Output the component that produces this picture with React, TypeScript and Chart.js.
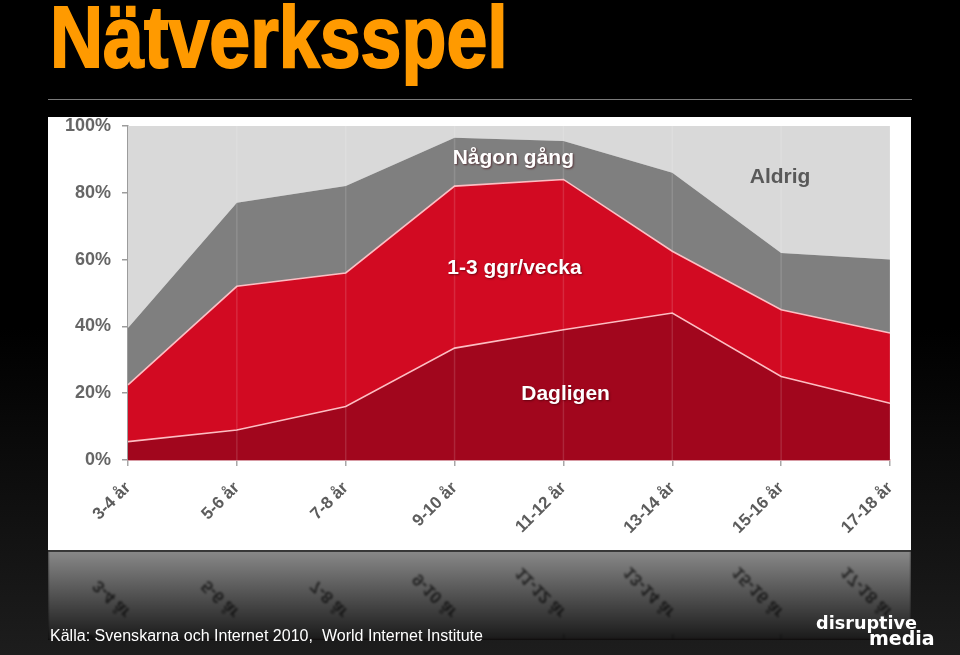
import React, { useEffect, useLayoutEffect, useRef } from "react";
import { Chart, registerables } from "chart.js";

Chart.register(...registerables);

// ---------- data ----------
const categories = ["3-4 år", "5-6 år", "7-8 år", "9-10 år", "11-12 år", "13-14 år", "15-16 år", "17-18 år"];
const dagligen = [5.5, 9, 16, 33.5, 39, 44, 25, 17];
const veckan = [17, 43, 40, 48.5, 45, 18.5, 20, 21];
const nagonGang = [17, 25, 26, 14.5, 11.5, 23.5, 17, 22];
const aldrig = [60.5, 23, 18, 3.5, 4.5, 14, 38, 40];
const yTicks = [0, 20, 40, 60, 80, 100];

const seriesNames = ["Dagligen", "1-3 ggr/vecka", "Någon gång", "Aldrig"];
const seriesColors = ["#a1061d", "#d20a22", "#7f7f7f", "#d9d9d9"];
// in-chart series labels: category index and percent value where they sit
const labelIndex = [4.02, 3.55, 3.54, 5.99];
const labelValue = [19.8, 57.5, 90.4, 84.7];
const labelColors = ["#ffffff", "#ffffff", "#ffffff", "#595959"];

const FONT = "'Liberation Sans', Arial, Helvetica, sans-serif";

const slidePlugin = {
  id: "slide",
  beforeDraw(chart: any) {
    const { ctx, width, height } = chart;
    ctx.save();
    ctx.fillStyle = "#ffffff";
    ctx.fillRect(0, 0, width, height);
    ctx.restore();
  },
  afterDatasetsDraw(chart: any) {
    const { ctx, chartArea, scales } = chart;
    const x = scales.x;
    const y = scales.y;
    ctx.save();
    ctx.strokeStyle = "rgba(255,255,255,0.13)";
    ctx.lineWidth = 1.5;
    categories.forEach((_, i) => {
      if (i === 0) return;
      const px = x.getPixelForValue(i);
      ctx.beginPath();
      ctx.moveTo(px, chartArea.top);
      ctx.lineTo(px, chartArea.bottom);
      ctx.stroke();
    });
    ctx.font = `bold 21px ${FONT}`;
    ctx.textAlign = "center";
    ctx.textBaseline = "middle";
    seriesNames.forEach((name, i) => {
      const px = x.getPixelForValue(labelIndex[i]);
      const py = y.getPixelForValue(labelValue[i]);
      if (labelColors[i] === "#ffffff") {
        ctx.shadowColor = "rgba(60,0,10,0.6)";
        ctx.shadowBlur = 2;
        ctx.shadowOffsetX = 1;
        ctx.shadowOffsetY = 1;
      } else {
        ctx.shadowColor = "rgba(0,0,0,0)";
      }
      ctx.fillStyle = labelColors[i];
      ctx.fillText(name, px, py);
    });
    ctx.restore();
  },
};

function drawReflection(src: HTMLCanvasElement, dst: HTMLCanvasElement) {
  const c = dst.getContext("2d");
  if (!c) return;
  const w = dst.width;
  const h = dst.height;
  c.clearRect(0, 0, w, h);
  c.save();
  c.filter = "blur(0.8px)";
  c.translate(0, h);
  c.scale(1, -1);
  c.drawImage(src, 0, src.height - h, w, h, 0, 0, w, h);
  c.restore();
  const g = c.createLinearGradient(0, 0, 0, h);
  g.addColorStop(0, "rgba(0,0,0,0.46)");
  g.addColorStop(1, "rgba(0,0,0,0.9)");
  c.fillStyle = g;
  c.fillRect(0, 0, w, h);
  c.fillStyle = "rgba(50,50,50,0.9)";
  c.fillRect(0, 0, w, 2);
}

function FitText(props: { text: string; left: number; top: number; width: number; style: React.CSSProperties }) {
  const ref = useRef<HTMLSpanElement>(null);
  useLayoutEffect(() => {
    const el = ref.current;
    if (!el) return;
    el.style.transform = "none";
    const w = el.offsetWidth;
    if (w > 0) el.style.transform = `scaleX(${props.width / w})`;
  }, [props.text, props.width]);
  return (
    <span
      ref={ref}
      style={{
        position: "absolute",
        left: props.left,
        top: props.top,
        whiteSpace: "pre",
        display: "inline-block",
        transformOrigin: "0 0",
        ...props.style,
      }}
    >
      {props.text}
    </span>
  );
}

export default function App() {
  const canvasRef = useRef<HTMLCanvasElement>(null);
  const reflRef = useRef<HTMLCanvasElement>(null);

  useEffect(() => {
    document.body.style.margin = "0";
    document.body.style.background = "#000";
    const canvas = canvasRef.current;
    if (!canvas) return;
    const values = [dagligen, veckan, nagonGang, aldrig];
    const chart = new Chart(canvas, {
      type: "line",
      data: {
        labels: categories,
        datasets: seriesNames.map((name, i) => ({
          label: name,
          data: values[i],
          backgroundColor: seriesColors[i],
          borderColor: i < 2 ? "rgba(255,196,200,0.95)" : seriesColors[i],
          borderWidth: i < 2 ? 1.6 : 0,
          fill: i === 0 ? "origin" : "-1",
          pointRadius: 0,
          tension: 0,
        })),
      },
      options: {
        animation: false,
        responsive: false,
        maintainAspectRatio: false,
        devicePixelRatio: 1,
        layout: { padding: { top: 9, right: 21, left: 0, bottom: 0 } },
        plugins: {
          legend: { display: false },
          tooltip: { enabled: false },
        },
        scales: {
          x: {
            type: "category",
            offset: false,
            afterFit: (s: any) => {
              s.height = 90;
              s.paddingLeft = 0;
              s.paddingRight = 0;
            },
            ticks: {
              autoSkip: false,
              minRotation: 45,
              maxRotation: 45,
              color: "#5c5c5c",
              padding: 12,
              font: { family: FONT, size: 17, weight: "bold" },
            },
            grid: { drawOnChartArea: false, tickLength: 6, color: "#a8a8a8", lineWidth: 1.5 },
            border: { color: "#d79ba4", width: 2 },
          },
          y: {
            stacked: true,
            min: 0,
            max: 100,
            afterFit: (s: any) => {
              s.width = 80;
              s.paddingTop = 0;
              s.paddingBottom = 0;
            },
            afterBuildTicks: (s: any) => {
              s.ticks = yTicks.map((v) => ({ value: v }));
            },
            ticks: {
              color: "#666666",
              padding: 11,
              font: { family: FONT, size: 18, weight: "bold" },
              callback: (v: any) => `${v}%`,
            },
            grid: { drawOnChartArea: false, tickLength: 6, color: "#9c9c9c", lineWidth: 1.5 },
            border: { color: "#9c9c9c", width: 1.5 },
          },
        },
      },
      plugins: [
        slidePlugin,
        {
          id: "reflection",
          afterRender(c: any) {
            if (reflRef.current) drawReflection(c.canvas, reflRef.current);
          },
        },
      ],
    } as any);
    if (reflRef.current) drawReflection(canvas, reflRef.current);
    return () => chart.destroy();
  }, []);

  return (
    <div
      style={{
        position: "fixed",
        left: 0,
        top: 0,
        width: 960,
        height: 655,
        overflow: "hidden",
        background: "linear-gradient(to bottom, #000 0%, #000 50%, #1d1d1d 100%)",
        fontFamily: FONT,
      }}
    >
      <FitText
        text="Nätverksspel"
        left={50}
        top={-7.5}
        width={458}
        style={{
          color: "#ff9a00",
          fontFamily: "'Liberation Sans Narrow', 'Arial Narrow', 'Liberation Sans', Arial, sans-serif",
          fontWeight: 700,
          fontSize: 87,
          lineHeight: "87px",
          WebkitTextStroke: "2px #ff9a00",
        }}
      />
      <div style={{ position: "absolute", left: 48, top: 99, width: 864, height: 1, background: "#7a7a7a" }} />
      <canvas
        ref={canvasRef}
        width={863}
        height={433}
        style={{ position: "absolute", left: 48, top: 117, width: 863, height: 433 }}
      />
      <canvas
        ref={reflRef}
        width={863}
        height={90}
        style={{ position: "absolute", left: 48, top: 550, width: 863, height: 90 }}
      />
      <FitText
        text="Källa: Svenskarna och Internet 2010,  World Internet Institute"
        left={50}
        top={627.5}
        width={433}
        style={{ color: "#ffffff", fontSize: 16, lineHeight: "16px", fontFamily: FONT }}
      />
      <FitText
        text="disruptive"
        left={816}
        top={614}
        width={101}
        style={{ color: "#ffffff", fontSize: 18, lineHeight: "18px", fontWeight: 700, fontFamily: "'DejaVu Sans', sans-serif" }}
      />
      <FitText
        text="media"
        left={869}
        top={629}
        width={66}
        style={{ color: "#ffffff", fontSize: 19, lineHeight: "19px", fontWeight: 700, fontFamily: "'DejaVu Sans', sans-serif" }}
      />
    </div>
  );
}
